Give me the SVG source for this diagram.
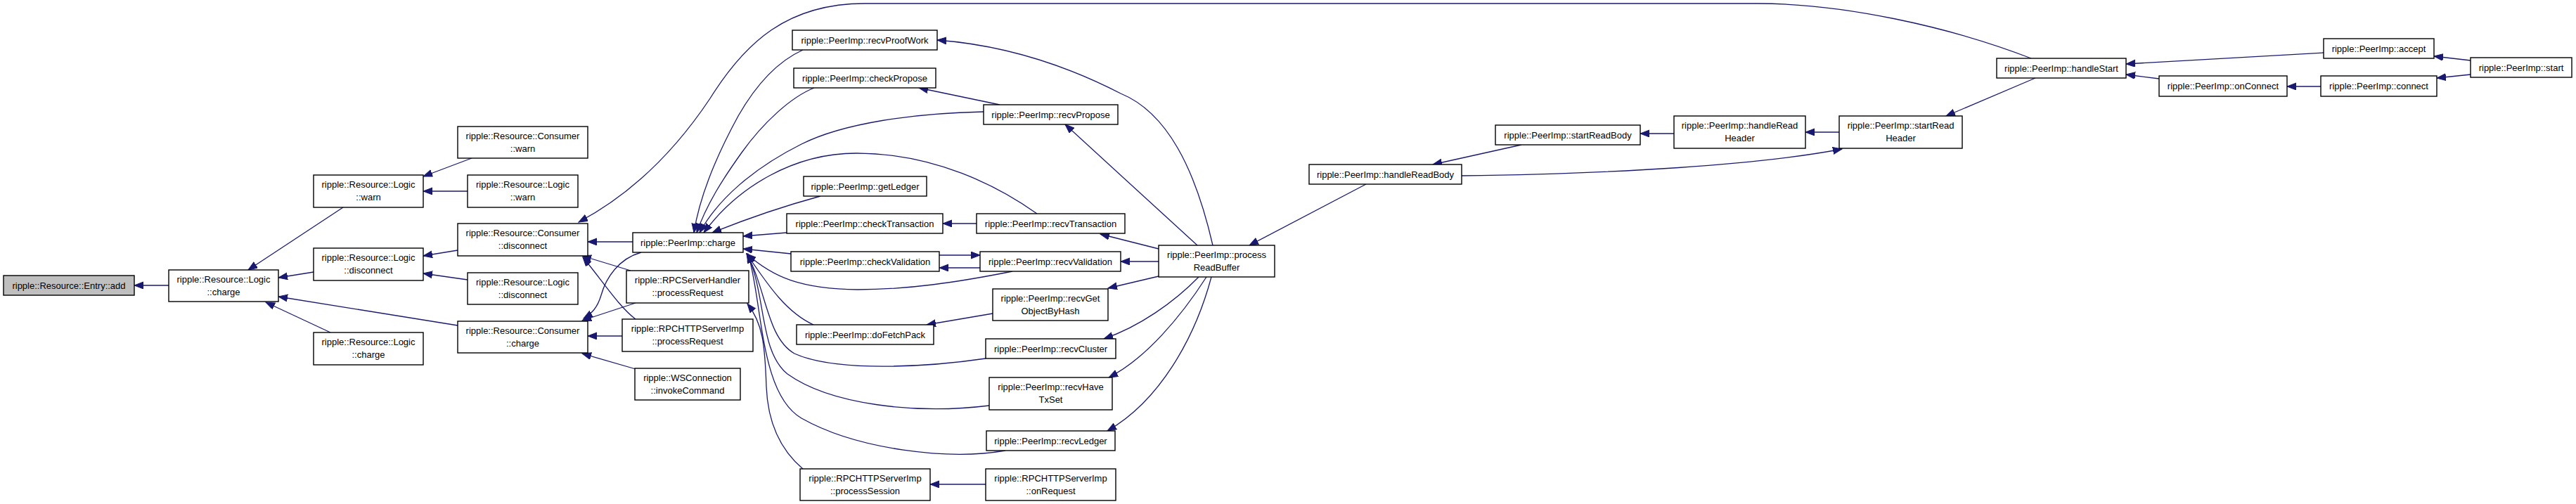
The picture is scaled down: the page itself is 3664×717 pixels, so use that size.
<svg xmlns="http://www.w3.org/2000/svg" width="3664" height="717" viewBox="0 0 3664 717">
<style>
.n rect{fill:#fff;stroke:#000;stroke-width:1.4}
.n.hl rect{fill:#bfbfbf}
.n text{font-family:"Liberation Sans",Arial,Helvetica,sans-serif;font-size:13px;fill:#000;text-anchor:middle}
.e path{fill:none;stroke:#191970;stroke-width:1.3;marker-end:url(#ah)}
</style>
<defs>
<marker id="ah" markerUnits="userSpaceOnUse" markerWidth="14" markerHeight="11" refX="13" refY="5" orient="auto"><path d="M0,0 L13,5 L0,10 z" fill="#191970" stroke="#191970" stroke-width="1"/></marker>
</defs>
<rect width="3664" height="717" fill="#fff"/>
<g id="edges" class="e">
<path d="M240,406 L191,406"/>
<path d="M488,295 L353,384"/>
<path d="M446,387 L396,395"/>
<path d="M651,463 L396,422"/>
<path d="M470,473 L378,430"/>
<path d="M671,225 L602,251"/>
<path d="M665,272 L602,272"/>
<path d="M651,356 L602,364"/>
<path d="M665,398 L602,389"/>
<path d="M900,344 L836,344"/>
<path d="M897,385 L828,364"/>
<path d="M904,454 C880,436 856,398 829,366"/>
<path d="M912,359 C880,368 862,395 855,420 C850,437 842,446 830,453"/>
<path d="M904,431 L828,456"/>
<path d="M885,478 L836,478"/>
<path d="M904,525 L828,503"/>
<path d="M2889,83 C2770,37 2620,5 2500,5 L1230,5 C1120,5 1060,60 1010,140 C960,215 900,275 823,316"/>
<path d="M1142,71 C1100,90 1070,130 1050,165 C1020,220 995,280 987,331"/>
<path d="M1158,125 C1125,138 1085,175 1055,217 C1030,252 1005,290 991,331"/>
<path d="M1399,159 C1300,161 1200,175 1140,205 C1070,240 1020,285 995,331"/>
<path d="M1475,304 C1420,265 1330,218 1218,218 C1130,218 1050,265 1001,331"/>
<path d="M1167,279 Q1090,300 1013,331"/>
<path d="M1119,331 L1057,336"/>
<path d="M1125,361 L1057,354"/>
<path d="M1440,386 C1360,402 1290,412 1220,412 C1140,411 1100,395 1062,361"/>
<path d="M1157,462 C1120,445 1095,410 1062,361"/>
<path d="M1402,510 C1320,522 1190,530 1130,503 C1090,480 1090,410 1062,361"/>
<path d="M1407,577 C1300,590 1180,575 1120,532 C1080,500 1090,420 1063,361"/>
<path d="M1430,641 C1350,655 1220,640 1140,595 C1080,560 1085,430 1064,361"/>
<path d="M1142,667 C1110,640 1092,600 1090,550 C1088,490 1085,460 1063,432"/>
<path d="M1422,149 L1307,125"/>
<path d="M1703,349 L1515,177"/>
<path d="M1725,349 C1700,240 1660,160 1594,133 C1530,100 1440,65 1333,57"/>
<path d="M1389,318 L1341,318"/>
<path d="M1648,354 L1565,333"/>
<path d="M1648,372 L1594,372"/>
<path d="M1336,363 L1394,363"/>
<path d="M1394,381 L1336,381"/>
<path d="M1648,393 L1576,410"/>
<path d="M1412,446 L1318,462"/>
<path d="M1705,394 C1670,430 1620,465 1570,482"/>
<path d="M1716,394 C1680,450 1630,510 1577,537"/>
<path d="M1723,394 C1700,480 1650,570 1575,613"/>
<path d="M1402,689 L1323,689"/>
<path d="M1943,262 L1777,349"/>
<path d="M2164,206 L2038,234"/>
<path d="M2381,190 L2333,190"/>
<path d="M2616,188 L2568,188"/>
<path d="M2079,250 C2300,247 2500,235 2620,212"/>
<path d="M2895,111 L2768,165"/>
<path d="M3305,75 L3024,91"/>
<path d="M3071,112 L3024,106"/>
<path d="M3301,123 L3253,123"/>
<path d="M3514,86 L3462,80"/>
<path d="M3514,106 L3466,111"/>
</g>
<g id="n_entry_add" class="n hl"><rect x="5" y="392" width="186" height="28"/><text x="98" y="410.5">ripple::Resource::Entry::add</text></g>
<g id="n_logic_charge" class="n"><rect x="240" y="384" width="156" height="45"/><text x="318" y="401.5">ripple::Resource::Logic</text><text x="318" y="419.5">::charge</text></g>
<g id="n_logic_warn" class="n"><rect x="446" y="249" width="156" height="46"/><text x="524" y="266.5">ripple::Resource::Logic</text><text x="524" y="284.5">::warn</text></g>
<g id="n_logic_disconnect" class="n"><rect x="446" y="353" width="156" height="46"/><text x="524" y="370.5">ripple::Resource::Logic</text><text x="524" y="388.5">::disconnect</text></g>
<g id="n_logic_charge2" class="n"><rect x="446" y="473" width="156" height="46"/><text x="524" y="490.5">ripple::Resource::Logic</text><text x="524" y="508.5">::charge</text></g>
<g id="n_consumer_warn" class="n"><rect x="651" y="180" width="185" height="45"/><text x="743.5" y="197.5">ripple::Resource::Consumer</text><text x="743.5" y="215.5">::warn</text></g>
<g id="n_logic_warn2" class="n"><rect x="665" y="249" width="157" height="46"/><text x="743.5" y="266.5">ripple::Resource::Logic</text><text x="743.5" y="284.5">::warn</text></g>
<g id="n_consumer_disconnect" class="n"><rect x="651" y="318" width="185" height="46"/><text x="743.5" y="335.5">ripple::Resource::Consumer</text><text x="743.5" y="353.5">::disconnect</text></g>
<g id="n_logic_disconnect2" class="n"><rect x="665" y="388" width="157" height="45"/><text x="743.5" y="405.5">ripple::Resource::Logic</text><text x="743.5" y="423.5">::disconnect</text></g>
<g id="n_consumer_charge" class="n"><rect x="651" y="457" width="185" height="45"/><text x="743.5" y="474.5">ripple::Resource::Consumer</text><text x="743.5" y="492.5">::charge</text></g>
<g id="n_peer_charge" class="n"><rect x="900" y="331" width="157" height="28"/><text x="978.5" y="349.5">ripple::PeerImp::charge</text></g>
<g id="n_rpcsh_processRequest" class="n"><rect x="891" y="385" width="174" height="46"/><text x="978" y="402.5">ripple::RPCServerHandler</text><text x="978" y="420.5">::processRequest</text></g>
<g id="n_rpchttp_processRequest" class="n"><rect x="885" y="454" width="186" height="46"/><text x="978" y="471.5">ripple::RPCHTTPServerImp</text><text x="978" y="489.5">::processRequest</text></g>
<g id="n_ws_invokeCommand" class="n"><rect x="903" y="524" width="150" height="45"/><text x="978" y="541.5">ripple::WSConnection</text><text x="978" y="559.5">::invokeCommand</text></g>
<g id="n_recvProofWork" class="n"><rect x="1127" y="43" width="206" height="28"/><text x="1230" y="61.5">ripple::PeerImp::recvProofWork</text></g>
<g id="n_checkPropose" class="n"><rect x="1129" y="97" width="202" height="28"/><text x="1230" y="115.5">ripple::PeerImp::checkPropose</text></g>
<g id="n_recvPropose" class="n"><rect x="1399" y="149" width="191" height="28"/><text x="1494.5" y="167.5">ripple::PeerImp::recvPropose</text></g>
<g id="n_getLedger" class="n"><rect x="1143" y="251" width="175" height="28"/><text x="1230.5" y="269.5">ripple::PeerImp::getLedger</text></g>
<g id="n_checkTransaction" class="n"><rect x="1119" y="304" width="222" height="28"/><text x="1230" y="322.5">ripple::PeerImp::checkTransaction</text></g>
<g id="n_recvTransaction" class="n"><rect x="1389" y="304" width="211" height="28"/><text x="1494.5" y="322.5">ripple::PeerImp::recvTransaction</text></g>
<g id="n_checkValidation" class="n"><rect x="1125" y="358" width="211" height="28"/><text x="1230.5" y="376.5">ripple::PeerImp::checkValidation</text></g>
<g id="n_recvValidation" class="n"><rect x="1394" y="358" width="200" height="28"/><text x="1494" y="376.5">ripple::PeerImp::recvValidation</text></g>
<g id="n_recvGetObjectByHash" class="n"><rect x="1412" y="411" width="164" height="45"/><text x="1494" y="428.5">ripple::PeerImp::recvGet</text><text x="1494" y="446.5">ObjectByHash</text></g>
<g id="n_doFetchPack" class="n"><rect x="1133" y="462" width="195" height="28"/><text x="1230.5" y="480.5">ripple::PeerImp::doFetchPack</text></g>
<g id="n_recvCluster" class="n"><rect x="1402" y="482" width="185" height="28"/><text x="1494.5" y="500.5">ripple::PeerImp::recvCluster</text></g>
<g id="n_recvHaveTxSet" class="n"><rect x="1407" y="537" width="175" height="46"/><text x="1494.5" y="554.5">ripple::PeerImp::recvHave</text><text x="1494.5" y="572.5">TxSet</text></g>
<g id="n_recvLedger" class="n"><rect x="1403" y="613" width="183" height="28"/><text x="1494.5" y="631.5">ripple::PeerImp::recvLedger</text></g>
<g id="n_processSession" class="n"><rect x="1138" y="667" width="185" height="45"/><text x="1230.5" y="684.5">ripple::RPCHTTPServerImp</text><text x="1230.5" y="702.5">::processSession</text></g>
<g id="n_onRequest" class="n"><rect x="1402" y="667" width="185" height="45"/><text x="1494.5" y="684.5">ripple::RPCHTTPServerImp</text><text x="1494.5" y="702.5">::onRequest</text></g>
<g id="n_processReadBuffer" class="n"><rect x="1648" y="349" width="165" height="45"/><text x="1730.5" y="366.5">ripple::PeerImp::process</text><text x="1730.5" y="384.5">ReadBuffer</text></g>
<g id="n_handleReadBody" class="n"><rect x="1862" y="234" width="217" height="28"/><text x="1970.5" y="252.5">ripple::PeerImp::handleReadBody</text></g>
<g id="n_startReadBody" class="n"><rect x="2127" y="178" width="206" height="28"/><text x="2230" y="196.5">ripple::PeerImp::startReadBody</text></g>
<g id="n_handleReadHeader" class="n"><rect x="2381" y="165" width="187" height="46"/><text x="2474.5" y="182.5">ripple::PeerImp::handleRead</text><text x="2474.5" y="200.5">Header</text></g>
<g id="n_startReadHeader" class="n"><rect x="2616" y="165" width="175" height="46"/><text x="2703.5" y="182.5">ripple::PeerImp::startRead</text><text x="2703.5" y="200.5">Header</text></g>
<g id="n_handleStart" class="n"><rect x="2840" y="83" width="184" height="28"/><text x="2932" y="101.5">ripple::PeerImp::handleStart</text></g>
<g id="n_accept" class="n"><rect x="3305" y="55" width="157" height="28"/><text x="3383.5" y="73.5">ripple::PeerImp::accept</text></g>
<g id="n_onConnect" class="n"><rect x="3071" y="108" width="182" height="29"/><text x="3162" y="127">ripple::PeerImp::onConnect</text></g>
<g id="n_connect" class="n"><rect x="3301" y="108" width="165" height="29"/><text x="3383.5" y="127">ripple::PeerImp::connect</text></g>
<g id="n_start" class="n"><rect x="3514" y="82" width="144" height="28"/><text x="3586" y="100.5">ripple::PeerImp::start</text></g>
</svg>
